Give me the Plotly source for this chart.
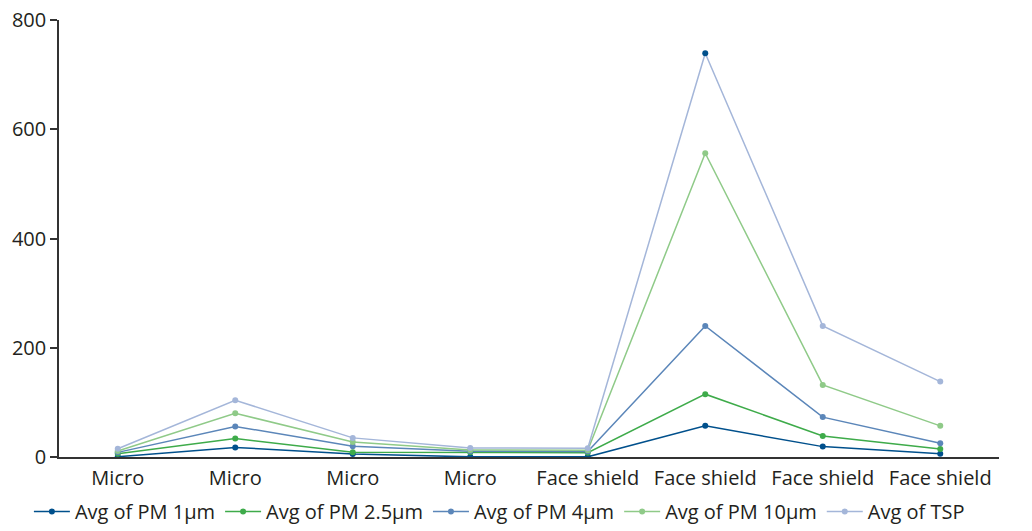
import plotly.graph_objects as go

categories = ["Micro", "Micro", "Micro", "Micro",
              "Face shield", "Face shield", "Face shield", "Face shield"]
pm1 = [0.5, 17.5, 5.5, 0.3, 0.3, 57, 19, 6]
pm25 = [6, 34, 8.5, 8.5, 8, 115, 38.5, 14.5]
pm4 = [8.5, 56, 19.5, 10.5, 10, 240, 73, 25]
pm10 = [11, 80, 27.5, 12.8, 12.5, 556, 132, 57]
tsp = [15, 104, 35, 16.5, 16, 739, 240, 138]

series = [
    ("Avg of PM 1μm", pm1, "#00508c"),
    ("Avg of PM 2.5μm", pm25, "#3eab4a"),
    ("Avg of PM 4μm", pm4, "#5b86b9"),
    ("Avg of PM 10μm", pm10, "#8fca88"),
    ("Avg of TSP", tsp, "#a4b6d9"),
]

x = list(range(len(categories)))
fig = go.Figure()
for name, vals, col in series:
    mcol = [col] * len(vals)
    if name == "Avg of TSP":
        mcol[5] = "#00508c"  # highlighted peak marker as in the source
    fig.add_trace(go.Scatter(
        x=x, y=vals, name=name, mode="lines+markers",
        line=dict(color=col, width=1.5),
        marker=dict(color=mcol, size=6),
    ))

fig.update_layout(
    width=1032, height=531,
    margin=dict(l=59, r=33, t=20, b=74, autoexpand=False),
    paper_bgcolor="white", plot_bgcolor="white",
    font=dict(family="Open Sans, Noto Sans, sans-serif", size=20, color="#231f20"),
    showlegend=True,
    legend=dict(orientation="h", xref="container", yref="container",
                x=0.028, xanchor="left", y=-0.004, yanchor="bottom",
                font=dict(size=20), itemwidth=36, tracegroupgap=0),
)
fig.update_xaxes(
    tickmode="array", tickvals=x, ticktext=categories,
    range=[-0.5, 7.5], showgrid=False, zeroline=False, automargin=False,
    showline=True, linecolor="#333333", linewidth=1.5, ticks="",
    ticklabelstandoff=2,
)
fig.update_yaxes(
    range=[0, 800], tickvals=[0, 200, 400, 600, 800], automargin=False,
    showgrid=False, zeroline=False, showline=True, linecolor="#333333",
    linewidth=1.5, ticks="outside", ticklen=7, tickcolor="#333333",
    tickwidth=1.5,
)
fig.write_html("out.html", post_script="document.body.style.margin='0';",
               config={"displayModeBar": False})
